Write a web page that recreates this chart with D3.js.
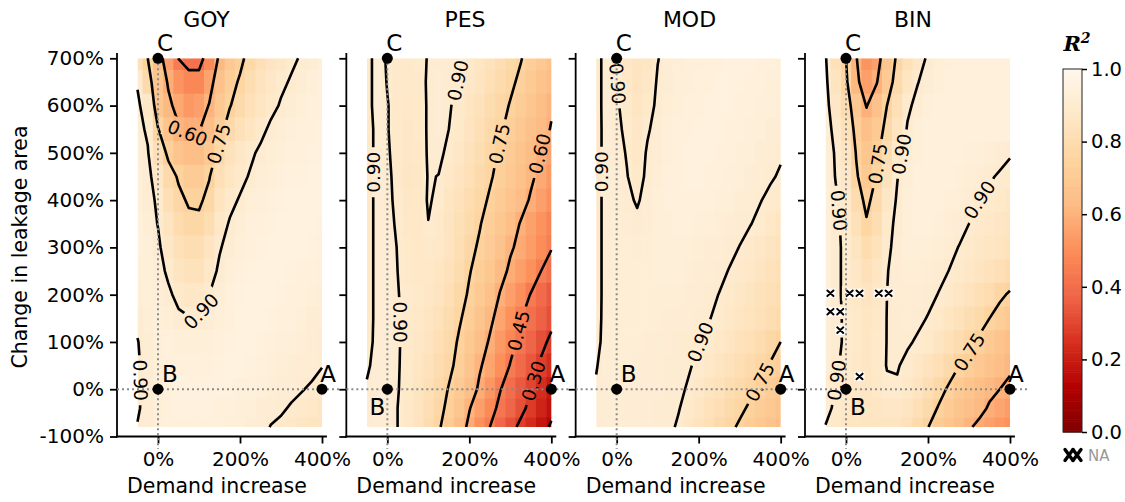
<!DOCTYPE html>
<html>
<head>
<meta charset="utf-8">
<title>R² over demand increase and leakage change</title>
<script src="https://cdn.jsdelivr.net/npm/d3@7"></script>
<style>
  html, body { margin: 0; padding: 0; background: #fff; }
  svg text { font-family: "DejaVu Sans", "Noto Sans", sans-serif; }
</style>
</head>
<body>
<svg id="chart" width="1125" height="502"></svg>
<script>
// ---- grid axes (percent) ----
const demandIncrease = [-50, -25, 0, 25, 50, 75, 100, 125, 150, 175, 200, 225, 250, 275, 300, 325, 350, 375, 400];
const leakageChange = [700, 650, 600, 550, 500, 450, 400, 350, 300, 250, 200, 150, 100, 50, 0, -40, -80];

// ---- R² per model; one row per leakage change (top row = 700 %) ----
const r2GOY = [
  [.82, .75, .64, .55, .448, .42, .42, .49, .62, .69, .73, .78, .82, .85, .87, .89, .905, .92, .93],
  [.895, .79, .68, .59, .52, .48, .48, .56, .66, .72, .76, .81, .845, .87, .89, .905, .92, .93, .94],
  [.91, .87, .68, .62, .57, .53, .55, .605, .69, .745, .79, .83, .86, .885, .905, .92, .93, .94, .945],
  [.92, .89, .755, .67, .61, .59, .595, .64, .72, .79, .83, .86, .885, .91, .925, .935, .94, .945, .95],
  [.925, .905, .82, .73, .67, .64, .645, .69, .78, .84, .87, .89, .91, .925, .935, .94, .945, .95, .95],
  [.93, .915, .87, .79, .74, .71, .71, .745, .82, .86, .885, .905, .925, .935, .945, .95, .95, .955, .955],
  [.935, .92, .89, .82, .77, .74, .735, .775, .85, .885, .905, .925, .935, .945, .95, .955, .955, .955, .955],
  [.94, .925, .898, .85, .80, .77, .77, .81, .875, .905, .925, .94, .945, .95, .955, .955, .955, .955, .95],
  [.94, .93, .91, .87, .83, .81, .81, .85, .895, .92, .935, .945, .95, .955, .955, .955, .955, .95, .945],
  [.935, .93, .92, .89, .855, .84, .84, .875, .91, .93, .94, .95, .955, .955, .955, .95, .945, .94, .935],
  [.925, .93, .925, .91, .885, .87, .875, .90, .925, .94, .95, .955, .955, .955, .95, .945, .94, .93, .925],
  [.91, .925, .93, .925, .91, .903, .903, .915, .935, .945, .955, .955, .955, .95, .945, .94, .93, .92, .915],
  [.898, .92, .935, .94, .935, .93, .93, .935, .945, .95, .955, .955, .95, .945, .935, .93, .925, .918, .91],
  [.895, .915, .935, .945, .945, .945, .945, .945, .95, .955, .955, .95, .945, .935, .925, .92, .916, .914, .902],
  [.893, .915, .935, .945, .95, .95, .95, .95, .95, .95, .945, .94, .93, .925, .918, .917, .903, .893, .88],
  [.895, .915, .935, .945, .95, .95, .95, .95, .945, .94, .935, .93, .92, .915, .91, .893, .885, .875, .865],
  [.902, .915, .935, .945, .945, .945, .945, .945, .94, .935, .93, .92, .915, .898, .885, .875, .865, .855, .85]
];
const r2PES = [
  [.88, .92, .895, .885, .885, .89, .902, .91, .91, .905, .885, .86, .835, .81, .78, .755, .72, .69, .66],
  [.88, .92, .898, .885, .88, .885, .905, .915, .91, .898, .875, .85, .82, .795, .765, .735, .70, .665, .635],
  [.88, .92, .902, .885, .875, .88, .905, .915, .905, .885, .86, .835, .805, .775, .745, .715, .68, .645, .61],
  [.875, .915, .902, .885, .87, .88, .905, .915, .90, .88, .85, .82, .79, .76, .725, .69, .66, .63, .595],
  [.875, .915, .905, .885, .87, .875, .905, .91, .89, .87, .84, .81, .775, .74, .705, .67, .635, .595, .56],
  [.875, .915, .91, .885, .865, .87, .903, .899, .875, .85, .82, .79, .76, .725, .69, .655, .615, .575, .535],
  [.875, .915, .91, .89, .87, .872, .905, .89, .86, .835, .805, .775, .74, .705, .67, .635, .59, .55, .51],
  [.875, .915, .915, .893, .875, .875, .899, .885, .855, .825, .795, .755, .72, .685, .64, .595, .555, .515, .475],
  [.875, .915, .92, .898, .88, .875, .885, .875, .85, .815, .77, .74, .705, .665, .61, .58, .54, .50, .455],
  [.875, .915, .92, .90, .885, .875, .875, .86, .835, .80, .755, .72, .685, .63, .585, .55, .51, .45, .41],
  [.875, .915, .92, .902, .888, .88, .87, .85, .82, .78, .74, .70, .655, .595, .55, .505, .445, .395, .35],
  [.875, .915, .92, .905, .885, .875, .86, .835, .80, .76, .72, .675, .62, .565, .51, .455, .41, .365, .325],
  [.88, .915, .92, .905, .885, .87, .85, .82, .785, .74, .695, .645, .59, .535, .48, .425, .375, .325, .28],
  [.893, .915, .92, .905, .88, .86, .835, .805, .77, .725, .675, .61, .565, .505, .445, .395, .345, .285, .24],
  [.905, .915, .92, .903, .88, .855, .825, .79, .745, .70, .645, .585, .525, .455, .40, .35, .30, .24, .19],
  [.91, .915, .915, .90, .875, .85, .815, .775, .73, .68, .605, .55, .49, .425, .375, .325, .275, .22, .17],
  [.91, .915, .912, .90, .875, .845, .805, .76, .71, .645, .58, .51, .45, .385, .33, .28, .235, .18, .14]
];
const r2MOD = [
  [.88, .92, .899, .87, .85, .86, .898, .915, .925, .93, .935, .94, .945, .95, .95, .95, .945, .94, .935],
  [.88, .92, .902, .875, .85, .87, .905, .92, .93, .935, .94, .945, .95, .95, .95, .945, .94, .935, .93],
  [.88, .92, .905, .885, .86, .88, .91, .925, .935, .94, .945, .95, .95, .95, .945, .94, .935, .93, .925],
  [.878, .92, .91, .89, .87, .895, .915, .93, .94, .945, .95, .95, .95, .945, .94, .935, .93, .92, .915],
  [.878, .92, .915, .897, .875, .905, .92, .935, .945, .95, .95, .95, .945, .94, .935, .93, .92, .912, .905],
  [.878, .92, .92, .902, .88, .91, .925, .94, .945, .95, .95, .945, .94, .935, .93, .92, .912, .905, .895],
  [.878, .92, .92, .91, .895, .915, .93, .94, .945, .945, .945, .94, .935, .93, .92, .912, .902, .89, .88],
  [.878, .92, .925, .92, .91, .92, .93, .935, .94, .94, .935, .93, .925, .915, .91, .902, .89, .875, .86],
  [.878, .92, .925, .925, .92, .925, .93, .935, .935, .93, .925, .92, .915, .91, .899, .885, .87, .855, .84],
  [.878, .92, .925, .925, .925, .925, .93, .93, .93, .925, .92, .915, .91, .898, .885, .87, .855, .84, .825],
  [.878, .92, .925, .925, .925, .925, .925, .925, .925, .92, .915, .91, .899, .885, .87, .855, .84, .825, .81],
  [.88, .92, .925, .925, .925, .925, .925, .92, .92, .915, .91, .902, .89, .875, .86, .845, .83, .81, .795],
  [.885, .92, .925, .925, .925, .92, .92, .915, .91, .905, .902, .89, .875, .86, .84, .82, .80, .775, .75],
  [.897, .92, .925, .925, .92, .92, .915, .91, .91, .905, .89, .875, .855, .835, .815, .795, .77, .745, .72],
  [.905, .92, .925, .92, .92, .915, .915, .91, .91, .895, .875, .855, .835, .81, .79, .765, .74, .715, .69],
  [.91, .92, .925, .92, .915, .915, .91, .91, .903, .885, .865, .84, .815, .79, .765, .74, .715, .69, .665],
  [.91, .92, .92, .92, .915, .915, .91, .91, .895, .87, .845, .82, .79, .765, .74, .715, .69, .665, .64]
];
const r2BIN = [
  [.905, .83, .75, .605, .52, .55, .68, .765, .83, .87, .91, .925, .935, .94, .945, .945, .945, .945, .945],
  [.91, .855, .77, .62, .55, .595, .70, .79, .86, .898, .92, .93, .94, .945, .945, .945, .945, .945, .945],
  [.915, .87, .80, .69, .595, .66, .75, .82, .89, .915, .93, .94, .945, .945, .945, .945, .945, .945, .945],
  [.92, .885, .83, .72, .65, .70, .78, .85, .905, .93, .94, .945, .945, .945, .945, .945, .945, .945, .94],
  [.925, .895, .85, .745, .68, .73, .81, .885, .92, .935, .945, .945, .945, .945, .935, .93, .925, .915, .903],
  [.925, .898, .87, .76, .70, .755, .84, .898, .925, .94, .945, .945, .94, .935, .925, .915, .905, .895, .89],
  [.93, .905, .885, .80, .725, .79, .87, .905, .93, .94, .945, .945, .935, .925, .915, .90, .89, .88, .87],
  [.93, .91, .885, .83, .76, .81, .885, .91, .935, .94, .94, .935, .925, .915, .90, .885, .875, .865, .855],
  [.93, .91, .89, .855, .80, .84, .89, .915, .93, .935, .935, .925, .912, .899, .885, .87, .86, .85, .84],
  [.93, .91, .89, .87, .83, .86, .898, .915, .925, .925, .92, .91, .90, .885, .87, .855, .84, .82, .80],
  [.93, .91, .89, .875, .85, .87, .90, .912, .915, .915, .91, .899, .885, .865, .845, .82, .80, .765, .74],
  [.925, .91, .893, .88, .86, .875, .901, .91, .912, .908, .898, .88, .86, .835, .81, .785, .75, .72, .69],
  [.92, .91, .893, .88, .865, .88, .901, .908, .905, .895, .88, .855, .83, .805, .775, .735, .70, .67, .64],
  [.915, .905, .89, .875, .865, .88, .902, .903, .89, .87, .845, .82, .79, .752, .72, .69, .665, .64, .615],
  [.91, .899, .885, .87, .865, .875, .893, .895, .875, .85, .815, .78, .74, .70, .67, .645, .62, .60, .58],
  [.915, .89, .875, .865, .86, .865, .87, .87, .855, .825, .79, .745, .705, .675, .65, .625, .59, .565, .54],
  [.898, .88, .865, .86, .855, .855, .855, .85, .83, .795, .752, .71, .68, .645, .61, .58, .555, .53, .51]
];

// BIN cells without a result (centres, percent)
const naDemand = [-38, 9, 33, 80, 104, -38, -14, -14, 33];
const naLeak = [203, 203, 203, 203, 203, 164, 164, 125, 27];

// contour levels and ticks
const levels = [0.15, 0.30, 0.45, 0.60, 0.75, 0.90];
const xTickValues = [0, 200, 400];
const yTickValues = [-100, 0, 100, 200, 300, 400, 500, 600, 700];
const colorbarTicks = [0, 0.2, 0.4, 0.6, 0.8, 1.0];

// reference scenarios
const scenarioNames = ["A", "B", "C"];
const scenarioDemand = [400, 0, 0];
const scenarioLeak = [0, 0, 700];

// ---- layout ----
const W = 1125, H = 502;
const svg = d3.select("#chart");
const defs = svg.append("defs");
const panelStep = 229.33;
const ys = d3.scaleLinear().domain([-100, 700]).range([436.5, 58.3]);
const fmtLevel = d3.format(".2f");
const heatX = [-50, 400], heatY = [-80, 700];

// OrRd (ColorBrewer), reversed so that R² = 1 is the palest
const orRd = ["#fff7ec", "#fee8c8", "#fdd49e", "#fdbb84", "#fc8d59", "#ef6548", "#d7301f", "#b30000", "#7f0000"];
const color = d3.scaleLinear()
  .domain(orRd.map((_, i) => 1 - i / (orRd.length - 1)))
  .range(orRd).clamp(true);

const panels = [
  { title: "GOY", r2: r2GOY, titleX: 206.5, bOff: [12, -16],
    labels: [[0.60, 71, 541], [0.75, 146, 520], [0.90, 110, 163], [0.90, -49, 19]] },
  { title: "PES", r2: r2PES, titleX: 465, bOff: [-10, 17],
    labels: [[0.90, -30, 459], [0.90, 36, 142], [0.90, 172, 653], [0.75, 271, 520],
             [0.60, 368, 499], [0.45, 316, 125], [0.30, 352, 19]] },
  { title: "MOD", r2: r2MOD, titleX: 689.5, bOff: [12, -16],
    labels: [[0.90, 8, 647], [0.90, -34, 460], [0.90, 203, 100], [0.75, 342, 19]] },
  { title: "BIN", r2: r2BIN, titleX: 913, bOff: [12, 17], missing: true,
    labels: [[0.75, 79, 477], [0.90, 132, 498], [0.90, -19, 378], [0.90, -23, 19],
             [0.90, 327, 400], [0.75, 294, 82]] }
];

// cell edges halfway between grid nodes
function cellEdges(v) {
  const e = [v[0]];
  for (let i = 1; i < v.length; i++) e.push((v[i - 1] + v[i]) / 2);
  e.push(v[v.length - 1]);
  return e;
}

// turn d3.contours rings into open iso-lines (drop the grid-border runs)
function ringsToLines(geom, nx, ny) {
  const out = [];
  const eps = 1e-6;
  const inside = p => p[0] >= 0.5 - eps && p[0] <= nx - 0.5 + eps &&
                      p[1] >= 0.5 - eps && p[1] <= ny - 0.5 + eps;
  geom.coordinates.forEach(poly => poly.forEach(ring => {
    let pts = ring.slice();
    const a = pts[0], b = pts[pts.length - 1];
    if (a[0] === b[0] && a[1] === b[1]) pts.pop();
    const n = pts.length;
    const start = pts.findIndex(p => !inside(p));
    if (start < 0) { out.push(pts.concat([pts[0]])); return; }
    let cur = [];
    for (let k = 1; k <= n; k++) {
      const p = pts[(start + k) % n];
      if (inside(p)) cur.push(p);
      else { if (cur.length > 1) out.push(cur); cur = []; }
    }
    if (cur.length > 1) out.push(cur);
  }));
  return out;
}

function nearestOnLines(lines, tx, ty) {
  let best = null;
  lines.forEach((L, li) => {
    for (let k = 0; k < L.length - 1; k++) {
      const [x1, y1] = L[k], [x2, y2] = L[k + 1];
      const dx = x2 - x1, dy = y2 - y1, l2 = dx * dx + dy * dy;
      let t = l2 ? ((tx - x1) * dx + (ty - y1) * dy) / l2 : 0;
      t = Math.max(0, Math.min(1, t));
      const px = x1 + t * dx, py = y1 + t * dy;
      const d = (px - tx) ** 2 + (py - ty) ** 2;
      if (!best || d < best.d) best = { d, px, py, li, k };
    }
  });
  return best;
}

const nx = demandIncrease.length, ny = leakageChange.length;
const xIdx = d3.scaleLinear().domain(d3.range(nx)).range(demandIncrease);
const yIdx = d3.scaleLinear().domain(d3.range(ny)).range(leakageChange);
const xEdges = cellEdges(demandIncrease);
const yEdges = cellEdges(leakageChange);
const naW = (heatX[1] - heatX[0]) / 19, naH = (heatY[1] - heatY[0]) / 40;

panels.forEach((P, p) => {
  const off = p * panelStep;
  const xs = d3.scaleLinear().domain([-100, 400]).range([117 + off, 322 + off]);
  const g = svg.append("g");

  // heatmap
  const clipId = "heat" + p;
  defs.append("clipPath").attr("id", clipId).append("rect")
    .attr("x", xs(heatX[0])).attr("y", ys(heatY[1]))
    .attr("width", xs(heatX[1]) - xs(heatX[0])).attr("height", ys(heatY[0]) - ys(heatY[1]));
  const cells = [];
  P.r2.forEach((row, j) => row.forEach((v, i) => cells.push({ i, j, v })));
  g.append("g").attr("clip-path", `url(#${clipId})`)
    .selectAll("rect").data(cells).join("rect")
    .attr("x", d => xs(xEdges[d.i]))
    .attr("y", d => ys(yEdges[d.j]))
    .attr("width", d => xs(xEdges[d.i + 1]) - xs(xEdges[d.i]) + 0.6)
    .attr("height", d => ys(yEdges[d.j + 1]) - ys(yEdges[d.j]) + 0.6)
    .attr("fill", d => color(d.v));

  // contour lines
  const geoms = d3.contours().size([nx, ny]).thresholds(levels)(P.r2.flat());
  const linesByLevel = geoms.map(gm => ringsToLines(gm, nx, ny)
    .map(L => L.map(([cx, cy]) => [xs(xIdx(cx - 0.5)), ys(yIdx(cy - 0.5))])));

  const mask = defs.append("mask").attr("id", "cut" + p)
    .attr("maskUnits", "userSpaceOnUse").attr("x", 0).attr("y", 0).attr("width", W).attr("height", H);
  mask.append("rect").attr("width", W).attr("height", H).attr("fill", "#fff");

  const lineG = g.append("g").attr("mask", `url(#cut${p})`);
  const line = d3.line();
  linesByLevel.forEach(lines => lines.forEach(L => {
    lineG.append("path").attr("d", line(L)).attr("fill", "none")
      .attr("stroke", "#000").attr("stroke-width", 2.6).attr("stroke-linejoin", "round");
  }));

  // inline contour labels
  const labelG = g.append("g");
  P.labels.forEach(([lv, lx, ly]) => {
    const lines = linesByLevel[levels.indexOf(lv)];
    if (!lines || !lines.length) return;
    const hit = nearestOnLines(lines, xs(lx), ys(ly));
    if (!hit) return;
    const L = lines[hit.li];
    const a0 = L[Math.max(0, hit.k - 1)], a1 = L[Math.min(L.length - 1, hit.k + 2)];
    let ang = Math.atan2(a1[1] - a0[1], a1[0] - a0[0]) * 180 / Math.PI;
    if (ang >= 90) ang -= 180;
    if (ang < -90) ang += 180;
    const tr = `translate(${hit.px},${hit.py}) rotate(${ang})`;
    mask.append("rect").attr("x", -25).attr("y", -11).attr("width", 50).attr("height", 22)
      .attr("transform", tr).attr("fill", "#000");
    labelG.append("text").attr("transform", tr).attr("text-anchor", "middle")
      .attr("dy", "0.36em").attr("font-size", 18.5).attr("fill", "#000").text(fmtLevel(lv));
  });

  // missing cells: white box with a cross, contour lines cut around them
  if (P.missing) {
    naDemand.forEach((d, k) => {
      mask.append("rect")
        .attr("x", xs(d - 0.8 * naW)).attr("y", ys(naLeak[k] + 0.8 * naH))
        .attr("width", xs(d + 0.8 * naW) - xs(d - 0.8 * naW))
        .attr("height", ys(naLeak[k] - 0.8 * naH) - ys(naLeak[k] + 0.8 * naH))
        .attr("fill", "#000");
    });
    const na = g.append("g").selectAll("g").data(naDemand).join("g")
      .attr("transform", (d, k) => `translate(${xs(d - naW / 2)},${ys(naLeak[k] + naH / 2)})`);
    const cw = xs(naW) - xs(0), ch = ys(0) - ys(naH);
    na.append("rect").attr("width", cw).attr("height", ch).attr("fill", "#fff");
    na.append("path")
      .attr("d", `M1.8,1.8L${cw - 1.8},${ch - 1.8}M${cw - 1.8},1.8L1.8,${ch - 1.8}`)
      .attr("stroke", "#000").attr("stroke-width", 2).attr("stroke-linecap", "round");
  }

  // axes
  const yAxis = d3.axisLeft(ys).tickValues(yTickValues).tickSize(7).tickPadding(6)
    .tickFormat(p === 0 ? (d => d + "%") : (() => ""));
  const ya = g.append("g").attr("transform", `translate(${xs(-100)},0)`).call(yAxis);
  const xAxis = d3.axisBottom(xs).tickValues(xTickValues).tickSize(7).tickPadding(8)
    .tickFormat(d => d + "%");
  const xa = g.append("g").attr("transform", `translate(0,${ys(-100)})`).call(xAxis);
  [ya, xa].forEach(a => {
    a.select(".domain").remove();
    a.attr("font-family", null).attr("font-size", null);
    a.selectAll(".tick line").attr("stroke", "#000").attr("stroke-width", 1.8);
    a.selectAll(".tick text").attr("font-size", 20).attr("fill", "#000");
  });
  g.append("line").attr("x1", xs(-100)).attr("x2", xs(-100)).attr("y1", ys(-100) + 0.9).attr("y2", ys(711))
    .attr("stroke", "#000").attr("stroke-width", 1.8);
  g.append("line").attr("x1", xs(-100) - 0.9).attr("x2", xs(412)).attr("y1", ys(-100)).attr("y2", ys(-100))
    .attr("stroke", "#000").attr("stroke-width", 1.8);

  g.append("text").attr("x", (xs(-100) + xs(412)) / 2 - 5).attr("y", 493)
    .attr("text-anchor", "middle").attr("font-size", 20.5).text("Demand increase");
  g.append("text").attr("x", P.titleX).attr("y", 26.5)
    .attr("text-anchor", "middle").attr("font-size", 22).text(P.title);

  // reference guides through B
  g.append("line").attr("x1", xs(-100)).attr("x2", xs(445)).attr("y1", ys(0)).attr("y2", ys(0))
    .attr("stroke", "#8a8a8a").attr("stroke-width", 2).attr("stroke-dasharray", "2,3");
  g.append("line").attr("x1", xs(0)).attr("x2", xs(0)).attr("y1", ys(700)).attr("y2", 449)
    .attr("stroke", "#8a8a8a").attr("stroke-width", 2).attr("stroke-dasharray", "2,3");

  // scenario points
  g.append("g").selectAll("circle").data(scenarioNames).join("circle")
    .attr("cx", (d, k) => xs(scenarioDemand[k]))
    .attr("cy", (d, k) => ys(scenarioLeak[k]))
    .attr("r", 5.5).attr("fill", "#000");
  const nameOff = { A: [6, -16], B: P.bOff, C: [7, -16] };
  g.append("g").selectAll("text").data(scenarioNames).join("text")
    .attr("x", (d, k) => xs(scenarioDemand[k]) + nameOff[d][0])
    .attr("y", (d, k) => ys(scenarioLeak[k]) + nameOff[d][1] + 8.5)
    .attr("text-anchor", "middle").attr("font-size", 23).attr("fill", "#000").text(d => d);
});

// y-axis title
svg.append("text").attr("transform", `translate(27,247) rotate(-90)`)
  .attr("text-anchor", "middle").attr("font-size", 20.5).text("Change in leakage area");

// ---- colour bar ----
const cbY = d3.scaleLinear().domain([0, 1]).range([432, 69]);
const cbX = 1063, cbW = 19;
const steps = d3.range(0, 1, 0.005);
svg.append("g").selectAll("rect").data(steps).join("rect")
  .attr("x", cbX).attr("width", cbW)
  .attr("y", d => cbY(d + 0.005)).attr("height", d => cbY(d) - cbY(d + 0.005) + 0.6)
  .attr("fill", d => color(d + 0.0025));
svg.append("rect").attr("x", cbX).attr("y", cbY(1)).attr("width", cbW).attr("height", cbY(0) - cbY(1))
  .attr("fill", "none").attr("stroke", "#222").attr("stroke-width", 1);
const cbAxis = svg.append("g").attr("transform", `translate(${cbX + cbW},0)`)
  .call(d3.axisRight(cbY).tickValues(colorbarTicks).tickSize(5).tickPadding(4).tickFormat(d3.format(".1f")));
cbAxis.select(".domain").remove();
cbAxis.attr("font-family", null).attr("font-size", null);
cbAxis.selectAll(".tick line").attr("stroke", "#000").attr("stroke-width", 1.5);
cbAxis.selectAll(".tick text").attr("font-size", 19.5).attr("fill", "#000");

const r2Label = svg.append("text").attr("x", 1077).attr("y", 51).attr("text-anchor", "middle")
  .attr("font-size", 21).attr("font-weight", "bold").attr("font-style", "italic")
  .style("font-family", '"DejaVu Serif", serif');
r2Label.append("tspan").text("R");
r2Label.append("tspan").attr("dy", -8).attr("font-size", 14).text("2");

// missing-value key: two bold crosses
const key = svg.append("g").attr("stroke", "#000").attr("stroke-width", 3.4).attr("stroke-linecap", "round");
key.append("path").attr("d", "M1065,449.5L1073,460.5M1073,449.5L1065,460.5");
key.append("path").attr("d", "M1073,449.5L1081,460.5M1081,449.5L1073,460.5");
svg.append("text").attr("x", 1088).attr("y", 461).attr("font-size", 15).attr("fill", "#999").text("NA");
</script>
</body>
</html>
